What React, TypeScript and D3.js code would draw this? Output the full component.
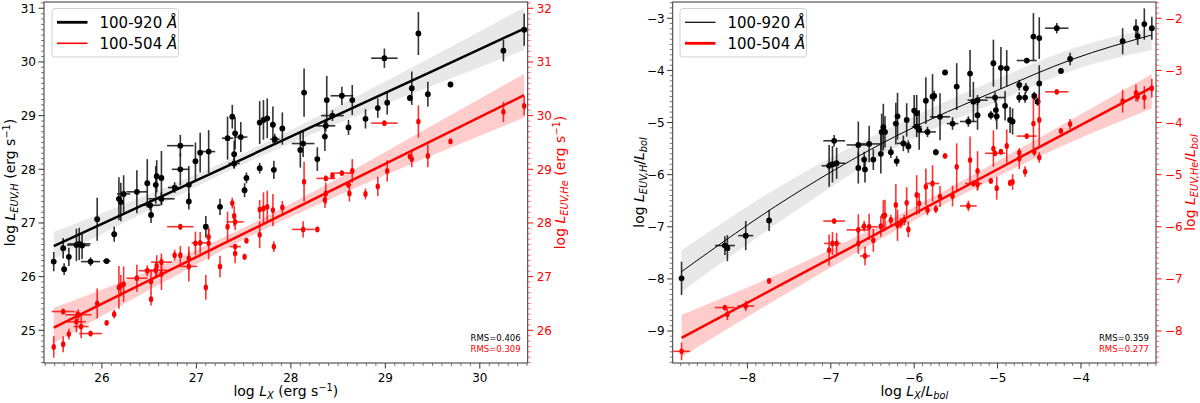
import React from 'react';
import * as d3 from 'd3';

type Pt = [number, number, number, number]; // x, y, xerr, yerr

// ---------- LEFT PANEL: log L_EUV vs log L_X ----------
const leftH: Pt[] = [
  [25.49, 26.28, 0, 0.18], [25.59, 26.53, 0, 0.19], [25.60, 26.14, 0, 0.11], [25.65, 26.37, 0, 0.17],
  [25.73, 26.59, 0.10, 0.30], [25.76, 26.61, 0.12, 0.30], [25.79, 26.58, 0.08, 0.25], [25.88, 26.28, 0.10, 0.08],
  [26.05, 26.29, 0.04, 0.05], [25.95, 27.07, 0, 0.40], [26.13, 26.79, 0, 0.14], [26.18, 27.45, 0, 0.40],
  [26.20, 27.39, 0, 0.36], [26.23, 27.54, 0.07, 0.35], [26.37, 27.58, 0.11, 0.40], [26.48, 27.74, 0, 0.45],
  [26.51, 27.33, 0.11, 0.10], [26.52, 27.15, 0, 0.15], [26.57, 27.71, 0, 0.35], [26.58, 27.87, 0, 0.30],
  [26.63, 27.84, 0, 0.50], [26.63, 27.45, 0.14, 0.12], [26.77, 27.66, 0.07, 0.10], [26.83, 28.44, 0.14, 0.20],
  [26.83, 28.00, 0.09, 0.30], [26.92, 27.71, 0, 0.35], [26.92, 27.40, 0, 0.15], [26.99, 28.15, 0, 0.35],
  [27.04, 28.31, 0, 0.37], [27.13, 28.33, 0.07, 0.40], [27.10, 26.93, 0, 0.20], [27.25, 27.30, 0, 0.15],
  [27.33, 28.58, 0.06, 0.40], [27.38, 28.98, 0, 0.22], [27.41, 28.67, 0, 0.30], [27.47, 28.60, 0.07, 0.28],
  [27.40, 28.28, 0, 0.25], [27.40, 28.11, 0.06, 0.10], [27.51, 27.61, 0, 0.13], [27.53, 27.84, 0, 0.10],
  [27.67, 28.02, 0, 0.10], [27.67, 28.87, 0, 0.40], [27.71, 28.92, 0, 0.37], [27.75, 28.95, 0, 0.37],
  [27.81, 28.83, 0, 0.34], [27.82, 27.99, 0, 0.17], [27.83, 28.56, 0.05, 0.10], [27.91, 28.76, 0, 0.30],
  [28.10, 28.36, 0, 0.33], [28.13, 28.48, 0.12, 0.25], [28.14, 29.43, 0, 0.45], [28.28, 28.19, 0, 0.22],
  [28.36, 28.61, 0, 0.27], [28.37, 28.81, 0.10, 0.10], [28.38, 29.29, 0, 0.45], [28.44, 29.00, 0.12, 0.10],
  [28.54, 29.37, 0.12, 0.17], [28.61, 28.78, 0, 0.14], [28.65, 29.29, 0, 0.28], [28.79, 28.94, 0, 0.18],
  [28.92, 29.14, 0, 0.18], [29.02, 29.24, 0, 0.22], [28.99, 30.07, 0.14, 0.18], [29.26, 29.33, 0, 0.06],
  [29.28, 29.51, 0, 0.31], [29.35, 30.53, 0, 0.40], [29.45, 29.40, 0, 0.23], [29.69, 29.58, 0, 0.05],
  [30.25, 30.21, 0, 0.20], [30.47, 30.60, 0, 0.30],
];

const leftHe: Pt[] = [
  [25.49, 25.69, 0, 0.20], [25.59, 26.35, 0.12, 0.05], [25.59, 25.74, 0, 0.15], [25.65, 25.93, 0, 0.10],
  [25.73, 26.16, 0.10, 0.20], [25.75, 26.29, 0.14, 0.10], [25.78, 26.07, 0.08, 0.22], [25.88, 25.94, 0.12, 0.05],
  [25.95, 26.50, 0, 0.28], [26.05, 26.14, 0, 0.04], [26.13, 26.30, 0, 0.08], [26.18, 26.80, 0, 0.40],
  [26.20, 26.83, 0, 0.20], [26.23, 26.86, 0, 0.33], [26.37, 26.97, 0.11, 0.25], [26.52, 26.91, 0, 0.22],
  [26.52, 26.58, 0, 0.12], [26.48, 27.11, 0.09, 0.10], [26.57, 27.12, 0.12, 0.15], [26.58, 27.20, 0, 0.20],
  [26.63, 27.27, 0.11, 0.16], [26.63, 27.05, 0, 0.30], [26.77, 27.40, 0, 0.10], [26.83, 27.40, 0, 0.17],
  [26.83, 27.93, 0.14, 0.05], [26.92, 27.19, 0.09, 0.28], [26.92, 27.34, 0, 0.22], [26.99, 27.62, 0, 0.22],
  [27.04, 27.63, 0.09, 0.20], [27.10, 26.80, 0, 0.23], [27.13, 27.62, 0, 0.30], [27.13, 27.74, 0, 0.15],
  [27.25, 27.19, 0, 0.20], [27.33, 27.93, 0, 0.28], [27.38, 28.37, 0, 0.10], [27.40, 28.13, 0, 0.19],
  [27.41, 27.56, 0.06, 0.05], [27.41, 27.43, 0, 0.18], [27.41, 28.02, 0.09, 0.15], [27.53, 27.67, 0, 0.04],
  [27.51, 27.37, 0, 0.06], [27.67, 27.78, 0, 0.25], [27.67, 28.25, 0, 0.18], [27.71, 28.27, 0, 0.30],
  [27.75, 28.30, 0, 0.30], [27.82, 27.56, 0, 0.10], [27.81, 28.24, 0, 0.30], [27.91, 28.29, 0, 0.12],
  [28.13, 27.88, 0.12, 0.15], [28.28, 27.88, 0.02, 0.05],
  [28.14, 28.77, 0, 0.37], [28.37, 28.83, 0.10, 0.05], [28.44, 28.88, 0, 0.04], [28.54, 28.93, 0.12, 0.04],
  [28.65, 28.97, 0, 0.22], [28.37, 28.55, 0, 0.20], [28.36, 28.43, 0, 0.15], [28.61, 28.71, 0.03, 0.06],
  [28.62, 28.55, 0, 0.15], [28.79, 28.54, 0, 0.10], [28.92, 28.68, 0, 0.18], [29.02, 28.97, 0, 0.20],
  [28.99, 29.86, 0.14, 0.03], [29.26, 29.24, 0, 0.04], [29.28, 29.19, 0, 0.15], [29.35, 29.89, 0, 0.30],
  [29.45, 29.25, 0, 0.21], [29.69, 29.52, 0, 0.05], [30.25, 30.07, 0, 0.19], [30.47, 30.18, 0, 0.18],
];

// fits and confidence bands: [x, line, lower, upper]
const leftFitH: [number, number, number, number][] = [
  [25.49, 26.57, 26.33, 26.83], [26.5, 27.39, 27.24, 27.54], [27.5, 28.20, 28.10, 28.30],
  [28.5, 29.02, 28.86, 29.18], [29.5, 29.83, 29.56, 30.10], [30.47, 30.62, 30.22, 31.02],
];
const leftFitHe: [number, number, number, number][] = [
  [25.49, 26.05, 25.76, 26.42], [26.5, 26.93, 26.75, 27.11], [27.5, 27.80, 27.69, 27.91],
  [28.5, 28.67, 28.51, 28.83], [29.5, 29.54, 29.26, 29.82], [30.47, 30.38, 29.96, 30.78],
];

// ---------- RIGHT PANEL: log L_EUV/Lbol vs log L_X/Lbol ----------
const rightH: Pt[] = [
  [-8.79, -7.99, 0, 0.32], [-8.27, -7.36, 0.12, 0.18], [-8.24, -7.41, 0, 0.25], [-8.02, -7.17, 0.09, 0.28],
  [-7.74, -6.88, 0, 0.20], [-7.02, -5.83, 0.09, 0.40], [-6.98, -5.80, 0, 0.35], [-6.96, -5.35, 0.13, 0.11],
  [-6.93, -5.78, 0.10, 0.30], [-6.67, -5.43, 0.14, 0.45], [-6.67, -5.87, 0, 0.30], [-6.60, -5.71, 0, 0.15],
  [-6.59, -5.90, 0, 0.25], [-6.54, -5.41, 0.13, 0.35], [-6.49, -5.71, 0, 0.20], [-6.40, -5.60, 0, 0.38],
  [-6.39, -5.18, 0, 0.35], [-6.37, -5.09, 0, 0.45], [-6.35, -5.18, 0, 0.30], [-6.28, -5.57, 0, 0.11],
  [-6.22, -5.02, 0, 0.40], [-6.20, -4.88, 0, 0.45], [-6.21, -5.74, 0, 0.10], [-6.09, -4.95, 0, 0.32],
  [-6.07, -5.46, 0, 0.12], [-6.13, -5.40, 0.08, 0.15], [-6.00, -4.77, 0, 0.30], [-5.97, -4.82, 0, 0.35],
  [-5.94, -5.14, 0, 0.38], [-5.97, -5.08, 0.06, 0.20], [-5.86, -4.58, 0, 0.45], [-5.84, -5.18, 0.10, 0.10],
  [-5.78, -4.50, 0, 0.43], [-5.76, -4.49, 0, 0.10], [-5.74, -5.57, 0.03, 0.06], [-5.69, -4.89, 0.12, 0.45],
  [-5.63, -4.04, 0.03, 0.04], [-5.54, -5.02, 0.07, 0.12], [-5.49, -4.31, 0, 0.45], [-5.35, -4.98, 0.10, 0.10],
  [-5.33, -4.06, 0, 0.45], [-5.29, -4.60, 0, 0.38], [-5.24, -4.57, 0.12, 0.10], [-5.24, -4.86, 0, 0.28],
  [-5.08, -4.86, 0, 0.08], [-5.05, -3.86, 0, 0.45], [-5.03, -4.52, 0.12, 0.10], [-5.01, -4.88, 0, 0.25],
  [-5.02, -4.76, 0, 0.20], [-4.96, -3.95, 0, 0.40], [-4.91, -4.68, 0, 0.28], [-4.89, -3.96, 0, 0.35],
  [-4.85, -4.95, 0, 0.25], [-4.82, -4.98, 0, 0.25], [-4.74, -4.28, 0, 0.10], [-4.74, -4.52, 0, 0.10],
  [-4.67, -4.52, 0, 0.10], [-4.66, -4.34, 0, 0.10], [-4.65, -3.81, 0.12, 0.05], [-4.57, -3.35, 0, 0.45],
  [-4.50, -3.38, 0, 0.40], [-4.56, -4.49, 0, 0.08], [-4.50, -4.25, 0, 0.35], [-4.52, -4.60, 0, 0.08],
  [-4.29, -3.19, 0.14, 0.10], [-4.24, -4.01, 0.02, 0.05], [-4.13, -3.78, 0, 0.12], [-3.50, -3.44, 0, 0.25],
  [-3.34, -3.19, 0, 0.17], [-3.32, -3.34, 0, 0.17], [-3.24, -3.11, 0, 0.30], [-3.15, -3.19, 0, 0.22],
];

const rightHe: Pt[] = [
  [-8.79, -8.39, 0.10, 0.17], [-8.27, -7.55, 0.12, 0.05], [-8.24, -7.68, 0, 0.11], [-8.02, -7.52, 0.10, 0.10],
  [-7.74, -7.04, 0, 0.05], [-7.02, -6.45, 0, 0.30], [-6.98, -6.32, 0.10, 0.22], [-6.96, -5.89, 0.13, 0.03],
  [-6.93, -6.32, 0, 0.20], [-6.67, -6.06, 0.14, 0.30], [-6.67, -6.32, 0, 0.20], [-6.60, -5.99, 0, 0.10],
  [-6.59, -6.56, 0.06, 0.18], [-6.54, -6.00, 0.10, 0.25], [-6.49, -6.26, 0, 0.22], [-6.40, -5.99, 0, 0.20],
  [-6.37, -5.79, 0, 0.30], [-6.35, -5.78, 0, 0.30], [-6.28, -5.87, 0, 0.10], [-6.22, -5.58, 0, 0.40],
  [-6.20, -5.97, 0, 0.30], [-6.16, -5.93, 0, 0.10], [-6.12, -5.87, 0, 0.10], [-6.09, -5.54, 0, 0.30],
  [-6.07, -6.05, 0, 0.15], [-5.97, -5.39, 0, 0.38], [-5.94, -5.55, 0, 0.20], [-5.84, -5.68, 0, 0.10],
  [-5.86, -5.23, 0, 0.35], [-5.78, -5.17, 0.08, 0.35], [-5.74, -5.66, 0, 0.08], [-5.69, -5.42, 0, 0.20],
  [-5.63, -4.64, 0.03, 0.03], [-5.54, -5.41, 0, 0.20], [-5.49, -4.85, 0, 0.45], [-5.35, -5.60, 0.10, 0.10],
  [-5.33, -4.72, 0, 0.45], [-5.29, -5.17, 0.10, 0.05], [-5.24, -4.93, 0, 0.38], [-5.24, -5.19, 0, 0.10],
  [-5.08, -5.12, 0, 0.05], [-5.05, -4.50, 0, 0.35], [-5.03, -4.59, 0.12, 0.05], [-5.01, -5.26, 0, 0.22],
  [-4.96, -4.56, 0, 0.05], [-4.89, -4.45, 0, 0.32], [-4.85, -5.16, 0, 0.06], [-4.82, -5.14, 0, 0.15],
  [-4.74, -4.69, 0, 0.20], [-4.74, -4.58, 0, 0.05], [-4.67, -4.94, 0, 0.10], [-4.65, -4.26, 0.12, 0.03],
  [-4.57, -4.02, 0, 0.48], [-4.56, -4.56, 0, 0.08], [-4.50, -3.95, 0, 0.50], [-4.50, -4.67, 0, 0.10],
  [-4.29, -3.41, 0.14, 0.04], [-4.24, -4.16, 0, 0.03], [-4.13, -4.03, 0, 0.10], [-3.50, -3.59, 0, 0.22],
  [-3.34, -3.43, 0, 0.16], [-3.32, -3.50, 0, 0.10], [-3.24, -3.52, 0, 0.22], [-3.15, -3.34, 0, 0.18],
];

const rightFitH: [number, number, number, number][] = [
  [-8.79, -7.86, -8.25, -7.45], [-7.5, -6.44, -6.78, -6.12], [-6.2, -5.245, -5.46, -5.03],
  [-5.0, -4.38, -4.60, -4.16], [-4.1, -3.785, -4.00, -3.58], [-3.15, -3.32, -3.61, -3.19],
];
const rightFitHe: [number, number, number, number][] = [
  [-8.79, -8.13, -8.50, -7.69], [-7.5, -7.03, -7.25, -6.81], [-6.0, -5.75, -5.88, -5.62],
  [-4.5, -4.47, -4.65, -4.29], [-3.15, -3.325, -3.73, -3.07],
];

const legendLabels = ['100-920 Å', '100-504 Å'];
const rmsLeft = ['RMS=0.406', 'RMS=0.309'];
const rmsRight = ['RMS=0.359', 'RMS=0.277'];

const xTicksLeft = [26, 27, 28, 29, 30];
const yTicksLeft = [25, 26, 27, 28, 29, 30, 31];
const y2TicksLeft = [26, 27, 28, 29, 30, 31, 32];
const xTicksRight = [-8, -7, -6, -5, -4];
const yTicksRight = [-9, -8, -7, -6, -5, -4, -3];
const y2TicksRight = [-8, -7, -6, -5, -4, -3, -2];

const FONT = "'DejaVu Sans', Verdana, sans-serif";
const RED = '#ff0000';

const fmt = (v: number) => (v < 0 ? '\u2212' + Math.abs(v) : String(v));

function minorTicks(dom: [number, number]) {
  const a = Math.ceil(Math.min(...dom) * 10);
  const b = Math.floor(Math.max(...dom) * 10);
  return d3.range(a, b + 1).filter((v) => v % 10 !== 0).map((v) => v / 10);
}

type Fit = [number, number, number, number][];
type PanelProps = {
  box: { x0: number; x1: number; y0: number; y1: number };
  xDom: [number, number];
  yDom: [number, number];
  xTicks: number[];
  yTicks: number[];
  y2Ticks: number[];
  H: Pt[];
  He: Pt[];
  fitH: Fit;
  fitHe: Fit;
  curvedH: boolean;
  hWidth: number;
  heWidth: number;
  legHWidth: number;
  legHeWidth: number;
  legendX: number;
  rms: string[];
  xLabel: React.ReactNode;
  yLabel: React.ReactNode;
  y2Label: React.ReactNode;
  yLabelX: number;
  y2LabelX: number;
};

function Panel(p: PanelProps) {
  const { box } = p;
  const x = d3.scaleLinear().domain(p.xDom).range([box.x0, box.x1]);
  const y = d3.scaleLinear().domain(p.yDom).range([box.y1, box.y0]);
  const y2 = d3.scaleLinear().domain([p.yDom[0] + 1, p.yDom[1] + 1]).range([box.y1, box.y0]);

  const curve = p.curvedH ? d3.curveMonotoneX : d3.curveLinear;
  const bandH = d3.area<Fit[number]>()
    .x((d) => x(d[0])).y0((d) => y(d[2])).y1((d) => y(d[3])).curve(d3.curveMonotoneX)(p.fitH)!;
  const lineH = d3.line<Fit[number]>()
    .x((d) => x(d[0])).y((d) => y(d[1])).curve(curve)(p.fitH)!;
  const bandHe = d3.area<Fit[number]>()
    .x((d) => x(d[0])).y0((d) => y2(d[2])).y1((d) => y2(d[3])).curve(d3.curveMonotoneX)(p.fitHe)!;
  const lineHe = d3.line<Fit[number]>()
    .x((d) => x(d[0])).y((d) => y2(d[1])).curve(d3.curveLinear)(p.fitHe)!;

  const bars = (data: Pt[], ys: d3.ScaleLinear<number, number>, color: string, op: number) =>
    data.map((d, i) => (
      <g key={i} stroke={color} strokeWidth={1.6} opacity={op}>
        {d[3] > 0 && <line x1={x(d[0])} x2={x(d[0])} y1={ys(d[1] - d[3])} y2={ys(d[1] + d[3])} />}
        {d[2] > 0 && <line x1={x(d[0] - d[2])} x2={x(d[0] + d[2])} y1={ys(d[1])} y2={ys(d[1])} />}
      </g>
    ));

  const xMinor = minorTicks(p.xDom);
  const yMinor = minorTicks(p.yDom);
  const y2Minor = minorTicks([p.yDom[0] + 1, p.yDom[1] + 1]);

  const lx = p.legendX;
  return (
    <g>
      <defs>
        <clipPath id={'clip' + Math.round(box.x0)}>
          <rect x={box.x0} y={box.y0} width={box.x1 - box.x0} height={box.y1 - box.y0} />
        </clipPath>
      </defs>
      <g clipPath={`url(#clip${Math.round(box.x0)})`}>
        <path d={bandH} fill="#d9d9d9" opacity={0.6} />
        <path d={bandHe} fill="#ff0000" opacity={0.2} />
        {bars(p.H, y, '#111', 0.85)}
        {p.H.map((d, i) => (
          <circle key={i} cx={x(d[0])} cy={y(d[1])} r={2.9} fill="#000" />
        ))}
        {bars(p.He, y2, RED, 0.8)}
        {p.He.map((d, i) => (
          <ellipse key={i} cx={x(d[0])} cy={y2(d[1])} rx={2.2} ry={2.9} fill={RED} />
        ))}
        <path d={lineH} fill="none" stroke="#000" strokeWidth={p.hWidth} />
        <path d={lineHe} fill="none" stroke={RED} strokeWidth={p.heWidth} />
      </g>

      {/* frame */}
      <rect x={box.x0} y={box.y0} width={box.x1 - box.x0} height={box.y1 - box.y0}
        fill="none" stroke="#333" strokeWidth={1} />

      {/* bottom axis */}
      {p.xTicks.map((t) => (
        <g key={'xt' + t}>
          <line x1={x(t)} x2={x(t)} y1={box.y1} y2={box.y1 + 5.5} stroke="#333" />
          <text x={x(t)} y={box.y1 + 19} textAnchor="middle" fontSize={12} fontFamily={FONT}>{fmt(t)}</text>
        </g>
      ))}
      {xMinor.map((t) => (
        <line key={'xm' + t} x1={x(t)} x2={x(t)} y1={box.y1} y2={box.y1 + 3} stroke="#555" strokeWidth={0.8} />
      ))}

      {/* left axis */}
      {p.yTicks.map((t) => (
        <g key={'yt' + t}>
          <line x1={box.x0 - 5.5} x2={box.x0} y1={y(t)} y2={y(t)} stroke="#333" />
          <text x={box.x0 - 8} y={y(t)} dy="0.36em" textAnchor="end" fontSize={12} fontFamily={FONT}>{fmt(t)}</text>
        </g>
      ))}
      {yMinor.map((t) => (
        <line key={'ym' + t} x1={box.x0 - 3} x2={box.x0} y1={y(t)} y2={y(t)} stroke="#555" strokeWidth={0.8} />
      ))}

      {/* right axis (red) */}
      {p.y2Ticks.map((t) => (
        <g key={'y2t' + t}>
          <line x1={box.x1} x2={box.x1 + 5.5} y1={y2(t)} y2={y2(t)} stroke={RED} />
          <text x={box.x1 + 9} y={y2(t)} dy="0.36em" textAnchor="start" fontSize={12} fontFamily={FONT} fill={RED}>{fmt(t)}</text>
        </g>
      ))}
      {y2Minor.map((t) => (
        <line key={'y2m' + t} x1={box.x1} x2={box.x1 + 3} y1={y2(t)} y2={y2(t)} stroke={RED} strokeWidth={0.8} opacity={0.7} />
      ))}

      {/* axis labels */}
      <text x={(box.x0 + box.x1) / 2} y={396} textAnchor="middle" fontSize={14} fontFamily={FONT}>{p.xLabel}</text>
      <text transform={`translate(${p.yLabelX},${(box.y0 + box.y1) / 2}) rotate(-90)`} textAnchor="middle"
        fontSize={14} fontFamily={FONT}>{p.yLabel}</text>
      <text transform={`translate(${p.y2LabelX},${(box.y0 + box.y1) / 2}) rotate(-90)`} textAnchor="middle"
        fontSize={14} fontFamily={FONT} fill={RED}>{p.y2Label}</text>

      {/* legend */}
      <rect x={lx} y={8.5} width={126.5} height={48.5} rx={3} fill="#fff" fillOpacity={0.85} stroke="#d0d0d0" strokeWidth={1} />
      <line x1={lx + 5} x2={lx + 35.5} y1={22.3} y2={22.3} stroke="#000" strokeWidth={p.legHWidth} />
      <line x1={lx + 5} x2={lx + 35.5} y1={43.3} y2={43.3} stroke={RED} strokeWidth={p.legHeWidth} />
      {legendLabels.map((l, i) => {
        const [num, ang] = l.split(' ');
        return (
          <text key={l} x={lx + 47.5} y={i === 0 ? 27.8 : 48.8} fontSize={15} fontFamily={FONT}>
            {num + ' '}<tspan fontStyle="italic">{ang}</tspan>
          </text>
        );
      })}

      {/* RMS */}
      <text x={box.x1 - 7} y={340.5} textAnchor="end" fontSize={8.5} fontFamily={FONT}>{p.rms[0]}</text>
      <text x={box.x1 - 7} y={351.5} textAnchor="end" fontSize={8.5} fontFamily={FONT} fill={RED}>{p.rms[1]}</text>
    </g>
  );
}

const Sub = ({ children }: { children: React.ReactNode }) => (
  <tspan fontSize="70%" fontStyle="italic" dy={3}>{children}</tspan>
);

export default function App() {
  return (
    <svg width={1200} height={403} style={{ position: 'absolute', left: 0, top: 0, background: '#fff' }}
      xmlns="http://www.w3.org/2000/svg">
      <rect width={1200} height={403} fill="#fff" />
      <Panel
        box={{ x0: 44, x1: 527.7, y0: 2, y1: 363 }}
        xDom={[25.387, 30.507]}
        yDom={[24.391, 31.117]}
        xTicks={xTicksLeft}
        yTicks={yTicksLeft}
        y2Ticks={y2TicksLeft}
        H={leftH}
        He={leftHe}
        fitH={leftFitH}
        fitHe={leftFitHe}
        curvedH={false}
        hWidth={2.5}
        heWidth={2.5}
        legHWidth={2.8}
        legHeWidth={1.6}
        legendX={52}
        rms={rmsLeft}
        xLabel={<>log <tspan fontStyle="italic">L</tspan><Sub>X</Sub><tspan dy={-3}> (erg s</tspan><tspan fontSize="70%" dy={-5}>−1</tspan><tspan dy={5}>)</tspan></>}
        yLabel={<>log <tspan fontStyle="italic">L</tspan><Sub>EUV,H</Sub><tspan dy={-3}> (erg s</tspan><tspan fontSize="70%" dy={-5}>−1</tspan><tspan dy={5}>)</tspan></>}
        y2Label={<>log <tspan fontStyle="italic">L</tspan><Sub>EUV,He</Sub><tspan dy={-3}> (erg s</tspan><tspan fontSize="70%" dy={-5}>−1</tspan><tspan dy={5}>)</tspan></>}
        yLabelX={15}
        y2LabelX={565}
      />
      <Panel
        box={{ x0: 672.7, x1: 1156, y0: 2, y1: 363 }}
        xDom={[-8.896, -3.1]}
        yDom={[-9.614, -2.687]}
        xTicks={xTicksRight}
        yTicks={yTicksRight}
        y2Ticks={y2TicksRight}
        H={rightH}
        He={rightHe}
        fitH={rightFitH}
        fitHe={rightFitHe}
        curvedH={true}
        hWidth={1}
        heWidth={2.5}
        legHWidth={1.2}
        legHeWidth={2.8}
        legendX={680}
        rms={rmsRight}
        xLabel={<>log <tspan fontStyle="italic">L</tspan><Sub>X</Sub><tspan dy={-3}>/</tspan><tspan fontStyle="italic">L</tspan><Sub>bol</Sub></>}
        yLabel={<>log <tspan fontStyle="italic">L</tspan><Sub>EUV,H</Sub><tspan dy={-3}>/</tspan><tspan fontStyle="italic">L</tspan><Sub>bol</Sub></>}
        y2Label={<>log <tspan fontStyle="italic">L</tspan><Sub>EUV,He</Sub><tspan dy={-3}>/</tspan><tspan fontStyle="italic">L</tspan><Sub>bol</Sub></>}
        yLabelX={644}
        y2LabelX={1195}
      />
    </svg>
  );
}
